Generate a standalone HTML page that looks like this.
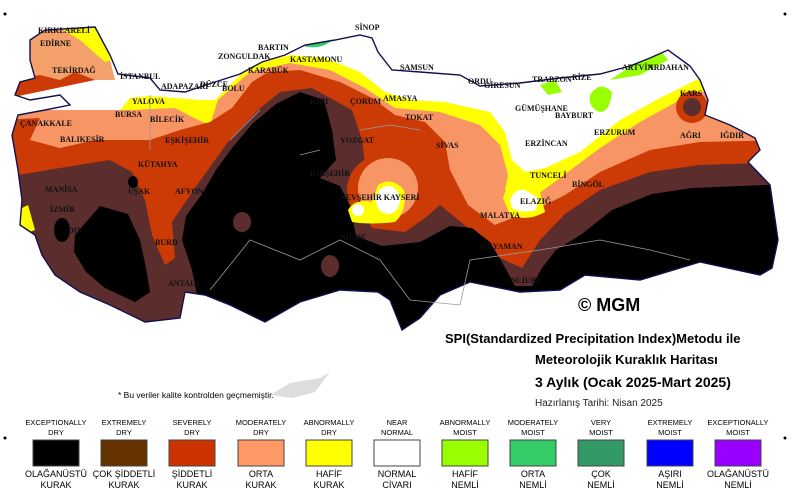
<!DOCTYPE html>
<html><head><meta charset="utf-8"><style>
body{margin:0;background:#fff;width:790px;height:491px;overflow:hidden;font-family:"Liberation Sans",sans-serif}
svg{position:absolute;left:0;top:0}
.c{font-family:"Liberation Serif",serif;font-size:8px;font-weight:bold;fill:#111}
.lt{font-size:7.5px;fill:#000;text-anchor:middle}
.lb{font-size:9px;fill:#000;text-anchor:middle}
</style></head><body>
<svg width="790" height="491" viewBox="0 0 790 491">
<defs>
<clipPath id="tr"><path id="trp" d="M30,40 L45,30 L95,27 L110,55 L118,74 L150,78 L160,90 L185,92 L215,82 L240,74 L262,62 L285,55 L305,45 L335,40 L360,35 L372,38 L378,52 L392,70 L420,72 L460,75 L480,86 L520,83 L560,78 L600,74 L630,66 L650,58 L668,50 L690,66 L700,80 L708,100 L705,115 L730,125 L755,138 L760,150 L748,162 L770,185 L778,240 L772,268 L760,275 L700,262 L640,280 L585,275 L560,290 L520,292 L470,282 L440,295 L420,318 L402,330 L390,300 L378,292 L340,290 L300,302 L265,322 L230,305 L205,295 L185,292 L180,318 L145,322 L110,305 L80,292 L55,275 L42,255 L35,235 L20,225 L22,200 L18,170 L12,135 L18,115 L45,110 L70,105 L60,95 L30,100 L15,95 L20,82 L35,78 L30,60 Z"/></clipPath>
</defs>
<g clip-path="url(#tr)">
<rect x="0" y="0" width="790" height="340" fill="#fff"/>
<path d="M0,0 L60,25 L110,60 L115,80 L0,80 Z" fill="#f4a06a"/>
<path d="M0,82 L40,75 L60,80 L75,72 L95,80 L0,100 Z" fill="#cc3a05"/>
<path d="M55,25 L95,25 L112,60 L105,62 L80,40 Z" fill="#ffff00"/>
<!-- yellow -->
<path d="M0,112 L120,110 L130,98 L150,96 L200,100 L215,100 L240,75 L262,62 L290,55 L325,58 L360,72 L385,92 L410,100 L445,102 L490,112 L505,132 L512,160 L525,172 L545,168 L580,152 L620,120 L660,98 L700,78 L790,80 L790,340 L0,340 Z" fill="#ffff00"/>
<!-- orange -->
<path d="M0,110 L130,110 L175,108 L198,120 L210,125 L218,100 L250,72 L290,63 L330,70 L365,88 L395,108 L440,112 L480,125 L500,145 L508,175 L505,190 L512,205 L530,200 L560,178 L600,148 L640,122 L680,100 L700,92 L790,90 L790,340 L0,340 Z" fill="#f79565"/>
<!-- red -->
<path d="M0,120 L40,118 L30,140 L60,148 L95,140 L150,140 L180,130 L210,122 L232,108 L252,82 L268,72 L300,70 L340,82 L372,98 L395,115 L425,122 L445,142 L450,170 L468,205 L495,225 L520,215 L545,205 L565,195 L600,172 L650,150 L700,142 L790,140 L790,340 L0,340 Z" fill="#cc3a05"/>
<circle cx="692" cy="107" r="16" fill="#cc3a05"/>
<!-- brown -->
<path d="M0,178 L60,168 L110,160 L132,172 L145,200 L152,235 L165,265 L175,258 L172,222 L195,188 L228,142 L258,110 L280,92 L312,88 L352,110 L362,140 L366,172 L360,205 L372,228 L405,232 L425,218 L440,205 L478,236 L500,258 L522,268 L540,240 L565,214 L600,190 L650,172 L700,165 L790,162 L790,340 L0,340 Z" fill="#5b2d2d"/>
<circle cx="692" cy="107" r="9" fill="#5b2d2d"/>
<!-- black -->
<path d="M198,300 L192,270 L182,240 L186,216 L202,194 L216,170 L232,148 L252,124 L276,104 L300,92 L324,100 L332,130 L336,160 L320,178 L340,186 L350,206 L356,236 L382,246 L420,242 L450,226 L472,228 L490,242 L502,262 L515,286 L532,286 L542,268 L556,250 L582,234 L612,210 L652,194 L692,188 L790,184 L790,340 L200,340 Z" fill="#000"/>
<path d="M75,235 L100,206 L128,214 L140,240 L146,268 L150,292 L135,302 L105,288 L86,272 L74,252 Z" fill="#000"/>
<ellipse cx="62" cy="230" rx="8" ry="12" fill="#000"/>
<ellipse cx="133" cy="182" rx="5" ry="6" fill="#000"/>
<ellipse cx="242" cy="222" rx="9" ry="10" fill="#5b2d2d"/>
<ellipse cx="330" cy="266" rx="9" ry="11" fill="#5b2d2d"/>
<ellipse cx="385" cy="190" rx="38" ry="36" fill="#cc3a05"/>
<ellipse cx="388" cy="188" rx="30" ry="30" fill="#f79565"/>
<path d="M348,210 Q355,198 372,202 L378,185 Q392,176 404,190 Q408,210 395,222 Q370,225 352,222 Z" fill="#ffff00"/>
<ellipse cx="388" cy="200" rx="12" ry="14" fill="#fff"/>
<circle cx="358" cy="210" r="6" fill="#fff"/>
<path d="M503,198 Q508,180 522,182 L540,192 L545,212 Q528,222 510,215 Z" fill="#ffff00"/>
<path d="M510,200 Q515,188 525,190 L538,198 L536,210 Q522,214 512,208 Z" fill="#fff"/>
<path d="M295,38 Q315,30 335,38 Q320,52 300,45 Z" fill="#33cc66"/>
<path d="M590,95 Q600,80 612,92 Q610,112 600,112 Q588,108 590,95 Z" fill="#99ff00"/>
<path d="M540,85 L555,80 L562,92 L548,95 Z" fill="#99ff00"/>
<path d="M610,80 L640,60 L660,50 L668,60 L640,75 Z" fill="#99ff00"/>
<path d="M18,210 L28,205 L35,230 L22,235 Z" fill="#ffff00"/>
</g>
<use href="#trp" fill="none" stroke="#101050" stroke-width="1.4"/>
<path d="M300,155 L320,150 M230,140 L260,110 M210,290 L250,240 L300,260 L340,240 L380,260 L410,300 L460,305 L470,260 L540,250 L600,240 L650,250 L690,260 M150,95 L150,150 M360,130 L390,125 L420,130" stroke="#999" stroke-width="0.8" fill="none"/>
<g class="c">
<text x="38" y="33">KIRKLARELİ</text><text x="40" y="46">EDİRNE</text><text x="52" y="73">TEKİRDAĞ</text>
<text x="120" y="79">İSTANBUL</text><text x="161" y="89">ADAPAZARI</text><text x="200" y="87">DÜZCE</text>
<text x="222" y="91">BOLU</text><text x="132" y="104">YALOVA</text><text x="115" y="117">BURSA</text>
<text x="150" y="122">BİLECİK</text><text x="165" y="143">EŞKİŞEHİR</text><text x="20" y="126">ÇANAKKALE</text>
<text x="60" y="142">BALIKESİR</text><text x="138" y="167">KÜTAHYA</text><text x="45" y="192">MANİSA</text>
<text x="128" y="194">UŞAK</text><text x="175" y="194">AFYON</text><text x="50" y="212">İZMİR</text>
<text x="68" y="233">DIN</text><text x="155" y="245">BURD</text><text x="168" y="286">ANTALY</text>
<text x="258" y="50">BARTIN</text><text x="218" y="59">ZONGULDAK</text><text x="290" y="62">KASTAMONU</text>
<text x="248" y="73">KARABÜK</text><text x="355" y="30">SİNOP</text><text x="310" y="104">KIRI</text>
<text x="350" y="104">ÇORUM</text><text x="383" y="101">AMASYA</text><text x="405" y="120">TOKAT</text>
<text x="340" y="143">YOZGAT</text><text x="436" y="148">SİVAS</text><text x="310" y="176">KIRŞEHİR</text>
<text x="340" y="200">NEVŞEHİR KAYSERİ</text><text x="340" y="240">NİĞDE</text><text x="400" y="70">SAMSUN</text>
<text x="468" y="84">ORDU</text><text x="484" y="88">GİRESUN</text><text x="532" y="82">TRABZON</text>
<text x="572" y="80">RİZE</text><text x="622" y="70">ARTVİN</text><text x="648" y="70">ARDAHAN</text>
<text x="515" y="111">GÜMÜŞHANE</text><text x="555" y="118">BAYBURT</text><text x="594" y="135">ERZURUM</text>
<text x="525" y="146">ERZİNCAN</text><text x="680" y="96">KARS</text><text x="680" y="138">AĞRI</text>
<text x="720" y="138">IĞDIR</text><text x="530" y="178">TUNCELİ</text><text x="572" y="187">BİNGÖL</text>
<text x="520" y="204">ELAZIĞ</text><text x="480" y="218">MALATYA</text><text x="478" y="249">ADIYAMAN</text>
<text x="505" y="283">ANLIURF</text>
</g>
<text x="578" y="311" font-size="18" font-weight="bold" fill="#000">© MGM</text>
<path d="M270,395 L290,383 L320,378 L330,372 L315,392 L292,398 Z" fill="#ddd"/>
<text x="118" y="398" font-size="8.5" fill="#000">* Bu veriler kalite kontrolden geçmemiştir.</text>
<text x="445" y="343" font-size="13" font-weight="bold" fill="#000">SPI(Standardized Precipitation Index)Metodu ile</text>
<text x="535" y="364" font-size="13" font-weight="bold" fill="#000">Meteorolojik Kuraklık Haritası</text>
<text x="535" y="387" font-size="14" font-weight="bold" fill="#000">3 Aylık (Ocak 2025-Mart 2025)</text>
<text x="535" y="406" font-size="10" fill="#222">Hazırlanış Tarihi: Nisan 2025</text>
<g>
<rect x="33" y="440" width="46" height="26" fill="#000" stroke="#444"/>
<rect x="101" y="440" width="46" height="26" fill="#663300" stroke="#444"/>
<rect x="169" y="440" width="46" height="26" fill="#cc3300" stroke="#444"/>
<rect x="238" y="440" width="46" height="26" fill="#ff9966" stroke="#444"/>
<rect x="306" y="440" width="46" height="26" fill="#ffff00" stroke="#444"/>
<rect x="374" y="440" width="46" height="26" fill="#fff" stroke="#444"/>
<rect x="442" y="440" width="46" height="26" fill="#99ff00" stroke="#444"/>
<rect x="510" y="440" width="46" height="26" fill="#33cc66" stroke="#444"/>
<rect x="578" y="440" width="46" height="26" fill="#339966" stroke="#444"/>
<rect x="647" y="440" width="46" height="26" fill="#0000ff" stroke="#444"/>
<rect x="715" y="440" width="46" height="26" fill="#9900ff" stroke="#444"/>
</g>
<g class="lt">
<text x="56" y="425">EXCEPTIONALLY</text><text x="56" y="435">DRY</text>
<text x="124" y="425">EXTREMELY</text><text x="124" y="435">DRY</text>
<text x="192" y="425">SEVERELY</text><text x="192" y="435">DRY</text>
<text x="261" y="425">MODERATELY</text><text x="261" y="435">DRY</text>
<text x="329" y="425">ABNORMALLY</text><text x="329" y="435">DRY</text>
<text x="397" y="425">NEAR</text><text x="397" y="435">NORMAL</text>
<text x="465" y="425">ABNORMALLY</text><text x="465" y="435">MOIST</text>
<text x="533" y="425">MODERATELY</text><text x="533" y="435">MOIST</text>
<text x="601" y="425">VERY</text><text x="601" y="435">MOIST</text>
<text x="670" y="425">EXTREMELY</text><text x="670" y="435">MOIST</text>
<text x="738" y="425">EXCEPTIONALLY</text><text x="738" y="435">MOIST</text>
</g>
<g class="lb">
<text x="56" y="477">OLAĞANÜSTÜ</text><text x="56" y="488">KURAK</text>
<text x="124" y="477">ÇOK ŞİDDETLİ</text><text x="124" y="488">KURAK</text>
<text x="192" y="477">ŞİDDETLİ</text><text x="192" y="488">KURAK</text>
<text x="261" y="477">ORTA</text><text x="261" y="488">KURAK</text>
<text x="329" y="477">HAFİF</text><text x="329" y="488">KURAK</text>
<text x="397" y="477">NORMAL</text><text x="397" y="488">CİVARI</text>
<text x="465" y="477">HAFİF</text><text x="465" y="488">NEMLİ</text>
<text x="533" y="477">ORTA</text><text x="533" y="488">NEMLİ</text>
<text x="601" y="477">ÇOK</text><text x="601" y="488">NEMLİ</text>
<text x="670" y="477">AŞIRI</text><text x="670" y="488">NEMLİ</text>
<text x="738" y="477">OLAĞANÜSTÜ</text><text x="738" y="488">NEMLİ</text>
</g>
<circle cx="5" cy="14" r="1.5" fill="#000"/><circle cx="785" cy="14" r="1.5" fill="#000"/>
<circle cx="5" cy="438" r="1.5" fill="#000"/><circle cx="785" cy="438" r="1.5" fill="#000"/>
</svg>
</body></html>
